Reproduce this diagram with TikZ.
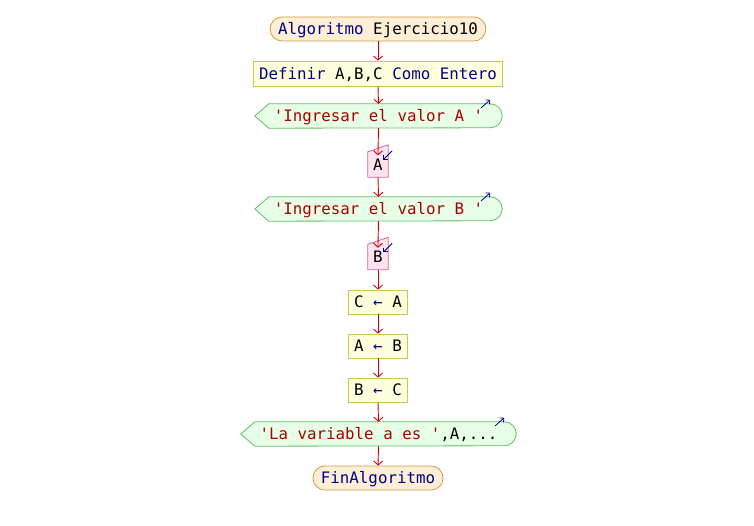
\documentclass[tikz,border=0pt]{standalone}
\usepackage{fontspec}
\setmonofont{DejaVu Sans Mono}
\usetikzlibrary{
  positioning,
  calc,
  arrows.meta,
  backgrounds,
  }
\definecolor{kwblue}{HTML}{000088}
\definecolor{strred}{HTML}{AA0000}
\definecolor{flowred}{HTML}{CC0000}
\definecolor{termfill}{HTML}{FFEFD6}
\definecolor{termline}{HTML}{D09A40}
\definecolor{procfill}{HTML}{FFFFDD}
\definecolor{procline}{HTML}{C8C850}
\definecolor{outfill}{HTML}{E6FFE6}
\definecolor{outline}{HTML}{66BB66}
\definecolor{infill}{HTML}{FFE4F0}
\definecolor{inline}{HTML}{CC6699}
\newcommand{\kw}[1]{\textcolor{kwblue}{#1}}
\newcommand{\strg}[1]{\textcolor{strred}{#1}}

\begin{document}
\begin{tikzpicture}[x=1pt, y=1pt,
  every node/.style={font=\ttfamily\fontsize{15.8}{18}\selectfont, minimum height=24pt,
    text height=11.5pt, text depth=0pt, inner xsep=5.5pt, inner ysep=0pt},
  term/.style={rounded corners=12pt, draw=termline, fill=termfill, line width=0.8pt, inner xsep=8pt},
  proc/.style={draw=procline, fill=procfill, line width=0.8pt},
  outp/.style={minimum width=247pt},
  inp/.style={minimum width=20pt, minimum height=25pt, inner xsep=0pt},
  flow/.style={draw=flowred, line width=0.9pt, -{Straight Barb[length=4pt,width=9pt]}},
  reach/.style={shorten >=-3.5pt},
  plain/.style={},
  icon/.style={draw=kwblue, line width=0.8pt, -{Straight Barb[length=3pt,width=6pt]}}
  ]
  \useasboundingbox (0,0) rectangle (754,-526);

  \node[term] (st) at (378,-29) {\kw{Algoritmo} Ejercicio10};
  \node[proc, minimum height=25pt] (def) at (378,-73.5) {\kw{Definir} A,B,C \kw{Como Entero}};
  \node[outp] (oA) at (378.5,-116) {\strg{'Ingresar el valor A '}};
  \node[inp] (iA) at (378,-164.5) {A};
  \node[outp] (oB) at (378.5,-209) {\strg{'Ingresar el valor B '}};
  \node[inp] (iB) at (378,-257) {B};
  \node[proc] (CA) at (378,-302) {C \kw{←} A};
  \node[proc] (AB) at (378,-346) {A \kw{←} B};
  \node[proc] (BC) at (378,-390) {B \kw{←} C};
  \node[outp, minimum width=275pt] (oC) at (378.5,-434) {\strg{'La variable a es '},A,...};
  \node[term] (en) at (378,-478) {\kw{FinAlgoritmo}};

  % shapes for output and input
  \begin{scope}[on background layer]
    \foreach \n in {oA,oB,oC}
      \draw[draw=outline, fill=outfill, line width=0.8pt] (\n.west) -- ($(\n.north west)+(14,0)$)
        -- ($(\n.north east)+(-12,0)$) arc[start angle=90, end angle=-90, radius=12]
        -- ($(\n.south west)+(14,0)$) -- cycle;
    \foreach \n in {iA,iB}
      \draw[draw=inline, fill=infill, line width=0.8pt] (\n.north west) -- ($(\n.north east)+(0,7)$)
        -- (\n.south east) -- (\n.south west) -- cycle;
  \end{scope}

  \foreach \n in {oA,oB,oC}
    \draw[icon] ($(\n.north east)+(-21,-4)$) -- ($(\n.north east)+(-12,4)$);
  \foreach \n in {iA,iB}
    \draw[icon] ($(\n.north east)+(4,1)$) -- ($(\n.north east)+(-5,-8)$);

  % connectors
  \foreach \a/\b/\o in {st/def/plain, def/oA/plain, oA/iA/reach, iA/oB/plain, oB/iB/reach,
                        iB/CA/plain, CA/AB/plain, AB/BC/plain, BC/oC/plain, oC/en/plain}
    \draw[flow, \o] (\a.south) -- (\b.north);
\end{tikzpicture}
\end{document}
